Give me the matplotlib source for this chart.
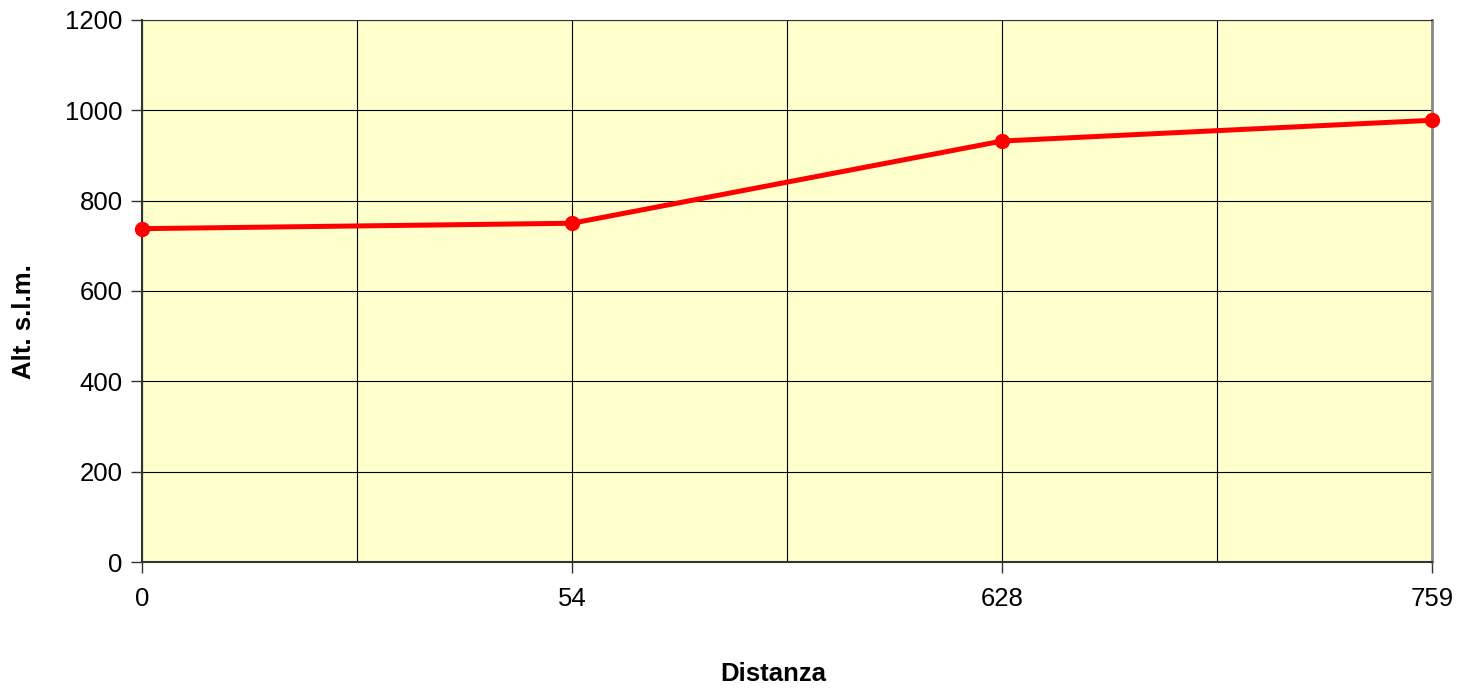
import matplotlib
matplotlib.use("Agg")
import matplotlib.pyplot as plt
from matplotlib.ticker import MultipleLocator

# profilo altimetrico
distanze = ["0", "54", "628", "759"]
altitudini = [738, 750, 932, 978]

plt.rcParams['font.family'] = ['Liberation Sans', 'DejaVu Sans']

fig = plt.figure(figsize=(14.61, 6.92), dpi=100)
ax = fig.add_axes([142 / 1461, 130 / 692, 1290 / 1461, 542 / 692])
ax.set_facecolor("#ffffcc")

x = list(range(len(distanze)))
ax.plot(x, altitudini, color="#ff0000", linewidth=3.6, marker="o",
        markersize=10, zorder=3, clip_on=False)

ax.set_xlim(0, len(distanze) - 1)
ax.set_ylim(0, 1200)
ax.set_xticks(x)
ax.set_xticklabels(distanze)
ax.xaxis.set_minor_locator(MultipleLocator(0.5))
ax.set_yticks(range(0, 1201, 200))

ax.grid(True, which="both", color="black", linewidth=0.8)
ax.tick_params(axis="both", which="major", labelsize=18.5, length=8,
               width=1, direction="out", color="#333333")
ax.tick_params(axis="x", which="minor", length=0)
ax.tick_params(axis="x", pad=10)
ax.tick_params(axis="y", pad=6)

for side in ["left", "bottom"]:
    ax.spines[side].set_color("#333333")
    ax.spines[side].set_linewidth(1.5)
ax.spines["right"].set_color("#888888")
ax.spines["right"].set_linewidth(2)
ax.spines["top"].set_color("#333333")

ax.set_xlabel("Distanza", fontsize=18.5, fontweight="bold")
ax.set_ylabel("Alt. s.l.m.", fontsize=18.5, fontweight="bold")
ax.xaxis.set_label_coords(0.489, -0.184)
ax.yaxis.set_label_coords(-0.082, 0.443)

fig.savefig("out.png", dpi=100)
